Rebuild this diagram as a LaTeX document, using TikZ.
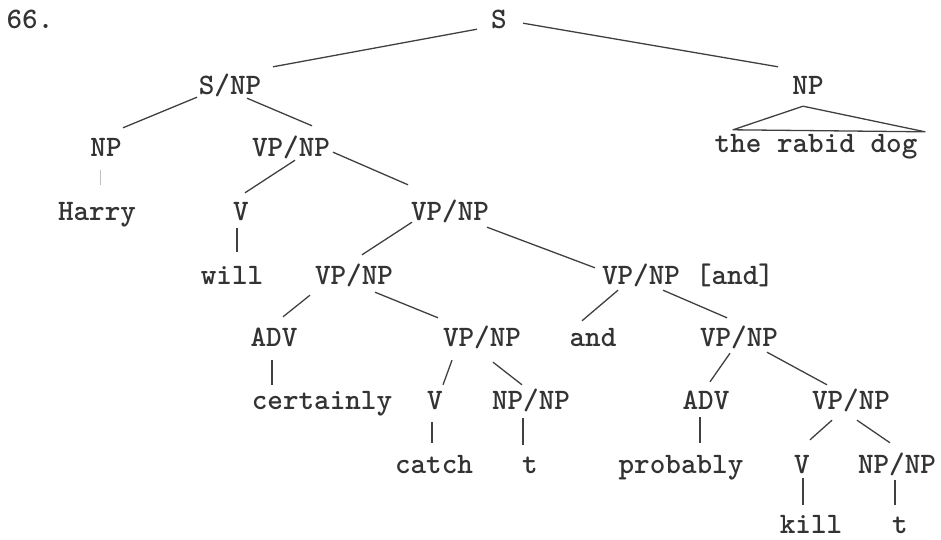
\documentclass[tikz,border=0pt]{standalone}
\usetikzlibrary{positioning}
\begin{document}
\begin{tikzpicture}[x=1pt,y=-1pt,
  cat/.style={inner sep=0pt,text height=18pt,text depth=0pt,anchor=base,
    font=\ttfamily\bfseries\fontsize{29.7}{30}\selectfont,text=black!80},
  branch/.style={draw=black!75,line width=1.3pt},
  faint/.style={draw=black!25,line width=1pt}]
\useasboundingbox (0,0) rectangle (941,540);
% row 0
\node[cat] (num) at (30,29) {66.};
\node[cat] (S) at (499,29) {S};
% row 1
\node[cat] (SNP) at (230,95) {S/NP};
\node[cat] (NPr) at (808,95) {NP};
% row 2
\node[cat] (NPl) at (106,157) {NP};
\node[cat] (VPa) at (291,157) {VP/NP};
\node[cat] (dog) at (816,153) {the rabid dog};
% row 3
\node[cat] (Harry) at (97,220) {Harry};
\node[cat] (Va) at (241,220) {V};
\node[cat] (VPb) at (450,220) {VP/NP};
% row 4
\node[cat] (will) at (232,284) {will};
\node[cat] (VPc) at (354,284) {VP/NP};
\node[cat] (VPd) at (641,284) {VP/NP};
\node[cat, right=15.6pt of VPd] (andtag) {[and]};
% row 5
\node[cat] (ADVc) at (274,346) {ADV};
\node[cat] (VPe) at (482,346) {VP/NP};
\node[cat] (conj) at (593,346) {and};
\node[cat] (VPf) at (739,346) {VP/NP};
% row 6
\node[cat] (certainly) at (322,409) {certainly};
\node[cat] (Ve) at (435,409) {V};
\node[cat] (NPe) at (531,409) {NP/NP};
\node[cat] (ADVf) at (706,409) {ADV};
\node[cat] (VPg) at (851,409) {VP/NP};
% row 7
\node[cat] (catch) at (434,473) {catch};
\node[cat] (te) at (530,473) {t};
\node[cat] (probably) at (681,473) {probably};
\node[cat] (Vg) at (802,473) {V};
\node[cat] (NPg) at (897,473) {NP/NP};
% row 8
\node[cat] (kill) at (811,533) {kill};
\node[cat] (tg) at (900,533) {t};
% branches
\draw[branch] ([shift={(-22,0)}]S.south) -- ([shift={(43,-10)}]SNP.north);
\draw[branch] ([shift={(24,-6)}]S.south) -- ([shift={(-30,-10)}]NPr.north);
\draw[branch] ([shift={(-33,2)}]SNP.south) -- ([shift={(17,-11)}]NPl.north);
\draw[branch] ([shift={(17,3)}]SNP.south) -- ([shift={(21,-13)}]VPa.north);
\draw[faint] ([shift={(-6,13)}]NPl.south) -- ([shift={(3,-17)}]Harry.north);
\draw[branch] ([shift={(4,3)}]VPa.south) -- ([shift={(4,-9)}]Va.north);
\draw[branch] ([shift={(42,-5)}]VPa.south) -- ([shift={(-42,-17)}]VPb.north);
\draw[branch] ([shift={(-4,8)}]Va.south) -- ([shift={(5,-14)}]will.north);
\draw[branch] ([shift={(-38,2)}]VPb.south) -- ([shift={(8,-11)}]VPc.north);
\draw[branch] ([shift={(37,7)}]VPb.south) -- ([shift={(-46,2)}]VPd.north);
\draw[branch] ([shift={(-44,11)}]VPc.south) -- ([shift={(9,-11)}]ADVc.north);
\draw[branch] ([shift={(21,8)}]VPc.south) -- ([shift={(-44,-10)}]VPe.north);
\draw[branch] ([shift={(-2,14)}]ADVc.south) -- ([shift={(-50,-6)}]certainly.north);
\draw[branch] ([shift={(-30,14)}]VPe.south) -- ([shift={(8,-6)}]Ve.north);
\draw[branch] ([shift={(11,16)}]VPe.south) -- ([shift={(-9,-6)}]NPe.north);
\draw[branch] ([shift={(-3,13)}]Ve.south) -- ([shift={(-2,-12)}]catch.north);
\draw[branch] ([shift={(-8,9)}]NPe.south) -- ([shift={(-7,-10)}]te.north);
\draw[branch] ([shift={(-23,6)}]VPd.south) -- ([shift={(-11,-7)}]conj.north);
\draw[branch] ([shift={(22,6)}]VPd.south) -- ([shift={(-12,-10)}]VPf.north);
\draw[branch] ([shift={(-9,7)}]VPf.south) -- ([shift={(4,-9)}]ADVf.north);
\draw[branch] ([shift={(28,6)}]VPf.south) -- ([shift={(-24,-6)}]VPg.north);
\draw[branch] ([shift={(-6,8)}]ADVf.south) -- ([shift={(19,-12)}]probably.north);
\draw[branch] ([shift={(-19,11)}]VPg.south) -- ([shift={(8,-15)}]Vg.north);
\draw[branch] ([shift={(6,11)}]VPg.south) -- ([shift={(-7,-12)}]NPg.north);
\draw[branch] ([shift={(1,5)}]Vg.south) -- ([shift={(-8,-10)}]kill.north);
\draw[branch] ([shift={(-2,7)}]NPg.south) -- ([shift={(-5,-10)}]tg.north);
% roof over the rabid dog
\draw[branch,line join=round] ([shift={(-5,11)}]NPr.south)
  -- ([shift={(-83,-5)}]dog.north) -- ([shift={(109,-3)}]dog.north) -- cycle;
\end{tikzpicture}
\end{document}
